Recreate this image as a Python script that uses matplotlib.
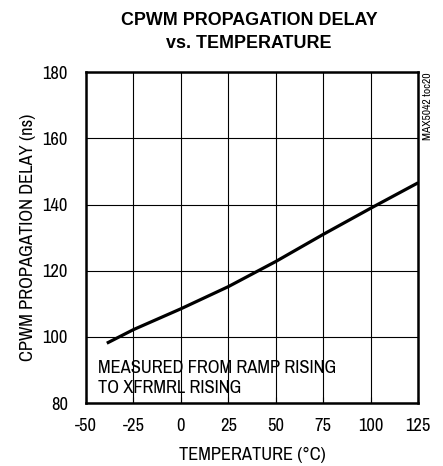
import matplotlib
matplotlib.use("Agg")
import matplotlib.pyplot as plt

plt.rcParams['font.family'] = ['Archivo Narrow', 'Liberation Sans', 'DejaVu Sans']
plt.rcParams['axes.unicode_minus'] = False

temperature = [-39, -25, 0, 25, 50, 75, 100, 125]
delay_ns = [98.1, 102.2, 108.5, 115.2, 122.8, 131.0, 138.9, 146.6]
x_ticks = [-50, -25, 0, 25, 50, 75, 100, 125]
y_ticks = [80, 100, 120, 140, 160, 180]

FS = 13.3
fig = plt.figure(figsize=(4.43, 4.66), dpi=100)
ax = fig.add_axes([0.194, 0.135, 0.750, 0.710])
ax.plot(temperature, delay_ns, color='black', lw=2.3, solid_capstyle='butt')
ax.set_xlim(-50, 125)
ax.set_ylim(80, 180)
ax.set_xticks(x_ticks)
ax.set_yticks(y_ticks)
ax.grid(True, color='black', lw=0.8)
ax.tick_params(direction='in', length=4.5, width=0.8, labelsize=FS, pad=11, colors='black')
ax.tick_params(axis='y', length=0, pad=13)
for s in ax.spines.values():
    s.set_linewidth(1.8)
ax.set_xlabel("TEMPERATURE (°C)", fontsize=FS, labelpad=9)
ax.set_ylabel("CPWM PROPAGATION DELAY (ns)", fontsize=FS, labelpad=5)
fig.text(0.562, 0.975, "CPWM PROPAGATION DELAY\nvs. TEMPERATURE", ha='center', va='top',
         fontsize=12.9, fontweight='bold', linespacing=1.5,
         family=['Liberation Sans', 'DejaVu Sans'])
ax.text(-43.7, 87.6, "MEASURED FROM RAMP RISING\nTO XFRMRL RISING", ha='left', va='center',
        fontsize=FS, linespacing=1.3)
fig.text(0.966, 0.845, "MAX5042 toc20", rotation=90, ha='center', va='top', fontsize=8.3)
fig.savefig("out.png", dpi=100)
